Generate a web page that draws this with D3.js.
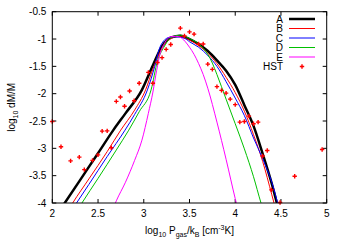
<!DOCTYPE html>
<html>
<head>
<meta charset="utf-8">
<script src="https://cdn.jsdelivr.net/npm/d3@7"></script>
<style>
  body { margin: 0; background: #fff; }
  text { font-family: "Liberation Sans", Arial, sans-serif; font-size: 10px; fill: #000; }
</style>
</head>
<body>
<div id="main"></div>
<script>
'use strict';

// model curves, [log10 P/k, log10 dM/M]
var curveA = [[2.10,-4.09],[2.136,-4.0],[2.30,-3.59],[2.50,-3.09],[2.667,-2.667],[2.80,-2.36],[2.98,-1.93],[3.10,-1.48],[3.20,-1.13],[3.30,-0.97],[3.40,-0.94],[3.50,-1.00],[3.60,-1.09],[3.70,-1.22],[3.80,-1.39],[3.90,-1.58],[4.00,-1.84],[4.10,-2.21],[4.20,-2.59],[4.30,-3.10],[4.40,-3.65],[4.47,-4.10]];
var curveB = [[2.19,-4.09],[2.223,-4.0],[2.40,-3.56],[2.60,-3.06],[2.748,-2.667],[2.90,-2.30],[3.02,-1.93],[3.10,-1.55],[3.20,-1.17],[3.30,-0.99],[3.38,-0.95],[3.50,-1.02],[3.60,-1.12],[3.70,-1.26],[3.80,-1.45],[3.90,-1.70],[4.00,-1.98],[4.10,-2.32],[4.20,-2.75],[4.30,-3.24],[4.40,-3.85],[4.44,-4.10]];
var curveC = [[2.23,-4.09],[2.265,-4.0],[2.40,-3.66],[2.60,-3.15],[2.795,-2.667],[2.90,-2.38],[3.04,-1.93],[3.12,-1.50],[3.17,-1.18],[3.22,-1.03],[3.28,-0.97],[3.35,-0.96],[3.45,-0.99],[3.50,-1.05],[3.60,-1.15],[3.70,-1.30],[3.80,-1.50],[3.90,-1.78],[4.00,-2.08],[4.10,-2.40],[4.20,-2.81],[4.30,-3.19],[4.40,-3.62],[4.48,-4.10]];
var curveD = [[2.29,-4.09],[2.324,-4.0],[2.50,-3.55],[2.70,-3.03],[2.836,-2.667],[2.95,-2.33],[3.08,-1.93],[3.15,-1.40],[3.22,-1.15],[3.28,-1.00],[3.35,-0.94],[3.40,-0.93],[3.50,-0.99],[3.60,-1.09],[3.65,-1.17],[3.70,-1.28],[3.75,-1.44],[3.80,-1.65],[3.90,-2.10],[4.00,-2.55],[4.10,-3.01],[4.20,-3.52],[4.28,-3.99],[4.30,-4.10]];
var curveE = [[2.66,-4.12],[2.70,-3.96],[2.80,-3.62],[2.90,-3.22],[2.98,-2.85],[3.05,-2.36],[3.10,-1.97],[3.14,-1.58],[3.18,-1.26],[3.23,-1.07],[3.29,-0.96],[3.35,-0.95],[3.40,-0.97],[3.45,-1.04],[3.50,-1.15],[3.55,-1.28],[3.60,-1.45],[3.65,-1.65],[3.70,-1.90],[3.80,-2.52],[3.90,-3.20],[4.00,-3.92],[4.03,-4.12]];

// HST points
var hstX = [2.00,2.095,2.20,2.295,2.35,2.44,2.50,2.545,2.60,2.645,2.70,2.745,2.79,2.845,2.895,2.95,3.05,3.10,3.15,3.20,3.245,3.295,3.40,3.445,3.50,3.55,3.60,3.65,3.70,3.75,3.80,3.85,3.90,3.945,4.00,4.05,4.10,4.15,4.20,4.25,4.30,4.35,4.395,4.49,4.65,4.95];
var hstY = [-2.51,-2.97,-3.23,-3.16,-3.39,-3.22,-3.12,-2.685,-2.68,-2.99,-2.14,-2.06,-2.23,-1.95,-2.13,-1.81,-1.61,-1.81,-1.43,-1.34,-1.19,-1.10,-0.80,-0.945,-0.87,-0.91,-1.09,-1.09,-1.46,-1.555,-1.87,-1.94,-1.99,-2.10,-2.20,-2.52,-2.51,-2.41,-2.55,-2.52,-3.14,-3.04,-3.76,-3.99,-3.51,-3.02];

var xTicks = [2, 2.5, 3, 3.5, 4, 4.5, 5];
var yTicks = [-0.5, -1, -1.5, -2, -2.5, -3, -3.5, -4];

var seriesNames = ['A', 'B', 'C', 'D', 'E'];
var seriesData = [curveA, curveB, curveC, curveD, curveE];
var seriesColor = ['#000000', '#ff0000', '#0000ff', '#00c000', '#ff00ff'];
var seriesWidth = [2.5, 1, 1, 1, 1];

var width = 346, height = 242;
var margin = {left: 52.3, right: 19.3, top: 11.7, bottom: 39};
var pw = width - margin.left - margin.right;
var ph = height - margin.top - margin.bottom;

var x = d3.scaleLinear().domain([2, 5]).range([margin.left, margin.left + pw]);
var y = d3.scaleLinear().domain([-4, -0.5]).range([margin.top + ph, margin.top]);

var svg = d3.select('#main').append('svg')
  .attr('width', width).attr('height', height);

svg.append('clipPath').attr('id', 'plot')
  .append('rect')
  .attr('x', margin.left).attr('y', margin.top)
  .attr('width', pw).attr('height', ph);

// ticks, gnuplot style: inside and mirrored
var tl = 4;
var axes = svg.append('g').attr('stroke', '#000').attr('stroke-width', 1);
xTicks.forEach(function(t) {
  axes.append('line').attr('x1', x(t)).attr('x2', x(t)).attr('y1', y(-4)).attr('y2', y(-4) - tl);
  axes.append('line').attr('x1', x(t)).attr('x2', x(t)).attr('y1', y(-0.5)).attr('y2', y(-0.5) + tl);
});
yTicks.forEach(function(t) {
  axes.append('line').attr('x1', x(2)).attr('x2', x(2) + tl).attr('y1', y(t)).attr('y2', y(t));
  axes.append('line').attr('x1', x(5)).attr('x2', x(5) - tl).attr('y1', y(t)).attr('y2', y(t));
});

svg.append('g').selectAll('text').data(xTicks).enter().append('text')
  .attr('x', function(d) { return x(d); })
  .attr('y', y(-4) + 13.5)
  .attr('text-anchor', 'middle')
  .text(function(d) { return d; });

svg.append('g').selectAll('text').data(yTicks).enter().append('text')
  .attr('x', x(2) - 6)
  .attr('y', function(d) { return y(d) + 3.5; })
  .attr('text-anchor', 'end')
  .text(function(d) { return d; });

var line = d3.line()
  .x(function(d) { return x(d[0]); })
  .y(function(d) { return y(d[1]); })
  .curve(d3.curveMonotoneX);

var curves = svg.append('g').attr('clip-path', 'url(#plot)');
seriesData.forEach(function(s, i) {
  curves.append('path')
    .attr('d', line(s))
    .attr('fill', 'none')
    .attr('stroke', seriesColor[i])
    .attr('stroke-width', seriesWidth[i]);
});

var plus = 'M-2.2,0H2.2M0,-2.2V2.2';
svg.append('g').selectAll('path').data(hstX).enter().append('path')
  .attr('transform', function(d, i) { return 'translate(' + x(d) + ',' + y(hstY[i]) + ')'; })
  .attr('d', plus)
  .attr('stroke', '#ff0000')
  .attr('stroke-width', 1.4);

// frame
svg.append('rect')
  .attr('x', margin.left).attr('y', margin.top)
  .attr('width', pw).attr('height', ph)
  .attr('fill', 'none').attr('stroke', '#000').attr('stroke-width', 1);

// legend
var lg = svg.append('g');
var rowY = function(i) { return 19 + i * 9.5; };
seriesNames.forEach(function(n, i) {
  lg.append('text').attr('x', 283).attr('y', rowY(i) + 3.5).attr('text-anchor', 'end').text(n);
  lg.append('line').attr('x1', 289).attr('x2', 315).attr('y1', rowY(i)).attr('y2', rowY(i))
    .attr('stroke', seriesColor[i]).attr('stroke-width', seriesWidth[i]);
});
lg.append('text').attr('x', 283).attr('y', rowY(5) + 3.5).attr('text-anchor', 'end').text('HST');
lg.append('path').attr('transform', 'translate(302,' + rowY(5) + ')')
  .attr('d', plus).attr('stroke', '#ff0000').attr('stroke-width', 1.4);

// axis labels
var xl = svg.append('text').attr('x', x(3.5)).attr('y', 234).attr('text-anchor', 'middle');
xl.append('tspan').text('log');
xl.append('tspan').attr('dy', 3).style('font-size', '7px').text('10');
xl.append('tspan').attr('dy', -3).text(' P');
xl.append('tspan').attr('dy', 3).style('font-size', '7px').text('gas');
xl.append('tspan').attr('dy', -3).text('/k');
xl.append('tspan').attr('dy', 3).style('font-size', '7px').text('B');
xl.append('tspan').attr('dy', -3).text(' [cm');
xl.append('tspan').attr('dy', -4).style('font-size', '7px').text('-3');
xl.append('tspan').attr('dy', 4).text('K]');

var yl = svg.append('text')
  .attr('transform', 'translate(15,' + y(-2.25) + ') rotate(-90)')
  .attr('text-anchor', 'middle');
yl.append('tspan').text('log');
yl.append('tspan').attr('dy', 3).style('font-size', '7px').text('10');
yl.append('tspan').attr('dy', -3).text(' dM/M');
</script>
</body>
</html>
